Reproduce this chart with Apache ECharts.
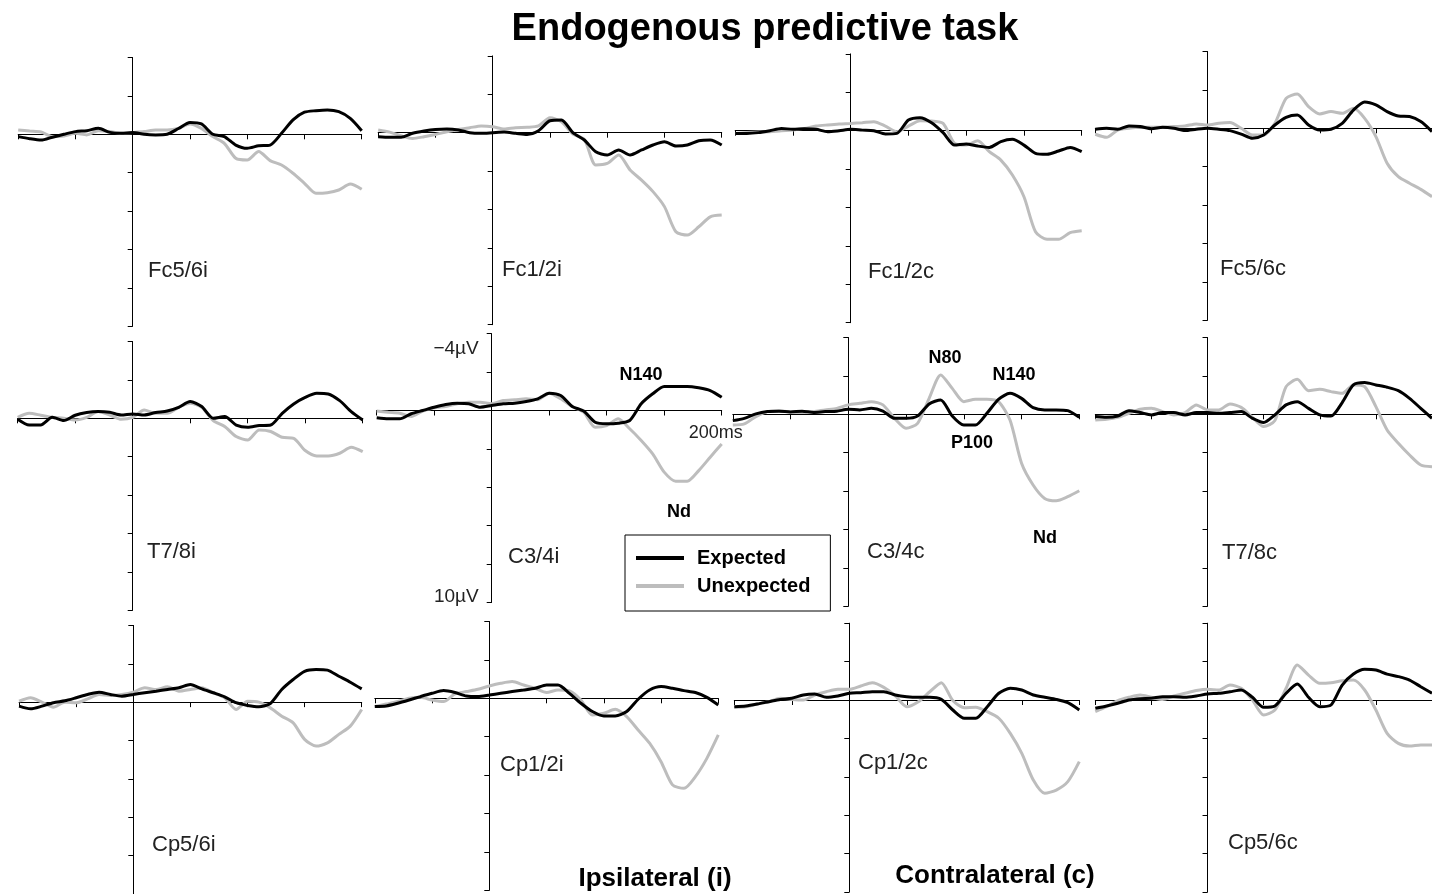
<!DOCTYPE html>
<html><head><meta charset="utf-8">
<script src="https://cdn.jsdelivr.net/npm/echarts@6/dist/echarts.min.js"></script>
<style>html,body{margin:0;padding:0;background:#fff}#c{width:1432px;height:894px}</style>
</head><body><div id="c"></div>
<script>
// ---------- DATA ----------
const times = [-100,-90,-80,-70,-60,-50,-40,-30,-20,-10,0,10,20,30,40,50,60,70,80,90,100,110,120,130,140,150,160,170,180,190,200];
const panelNames = ['Fc5/6i','Fc1/2i','Fc1/2c','Fc5/6c','T7/8i','C3/4i','C3/4c','T7/8c','Cp5/6i','Cp1/2i','Cp1/2c','Cp5/6c'];
const seriesNames = ['Expected','Unexpected'];

const fc56i_exp   = [0.12,0.23,0.3,0.15,0,-0.14,-0.19,-0.31,-0.1,-0.05,-0.09,0,0.03,0,-0.3,-0.62,-0.54,0,0.12,0.56,0.73,0.6,0.56,-0.05,-0.75,-1.15,-1.23,-1.27,-1.18,-0.83,-0.19];
const fc56i_unexp = [-0.23,-0.17,-0.12,0.12,0.09,-0.05,0.03,-0.19,-0.14,-0.05,-0.09,-0.14,-0.23,-0.23,-0.31,-0.54,-0.31,0.12,0.47,1.25,1.34,0.9,1.37,1.6,2.03,2.55,3.07,3.04,2.9,2.59,2.86];
const fc12i_exp   = [0.21,0.24,0.24,0.03,-0.09,-0.17,-0.19,-0.14,0,0.03,0,-0.03,0.03,0.09,-0.1,-0.62,-0.66,0,0.38,0.99,1.16,0.9,1.16,0.9,0.64,0.47,0.69,0.64,0.42,0.38,0.64];
const fc12i_unexp = [-0.14,-0.03,0.16,0.3,0.21,0.09,-0.05,-0.17,-0.26,-0.35,-0.31,-0.19,-0.26,-0.28,-0.35,-0.78,-0.57,0.07,0.35,1.68,1.6,1.16,1.94,2.47,3.07,3.85,5.16,5.33,4.9,4.38,4.29];
const fc12c_exp   = [0.14,0.14,0.1,0,-0.12,-0.07,-0.1,-0.07,0.05,0,-0.07,-0.03,0,0.17,0.14,-0.56,-0.68,-0.42,0.1,0.75,0.69,0.8,0.87,0.57,0.45,0.75,1.18,1.23,1.06,0.87,1.09];
const fc12c_unexp = [0.14,0.1,0.07,0.05,0,-0.03,-0.12,-0.24,-0.3,-0.35,-0.38,-0.42,-0.47,-0.24,0.05,-0.24,-0.52,-0.5,-0.38,0.66,0.75,0.52,1.09,1.53,2.31,3.44,5.26,5.66,5.66,5.31,5.21];
const fc56c_exp   = [0.05,0,0.05,-0.12,-0.09,0.02,-0.05,0,0.12,0.05,0,0.05,0.12,0.3,0.52,0.35,-0.17,-0.57,-0.69,-0.17,0.09,0.05,-0.26,-0.95,-1.37,-1.22,-0.87,-0.64,-0.61,-0.35,0.17];
const fc56c_unexp = [0.31,0.47,0.09,0,-0.05,-0.05,-0.05,-0.09,-0.12,-0.23,-0.17,-0.26,-0.3,0,0.35,0.35,-0.26,-1.56,-1.79,-1.13,-0.75,-0.87,-0.78,-1.04,-0.52,0.43,1.82,2.52,2.86,3.18,3.56];
const t78i_exp    = [0.05,0.35,0.35,-0.05,0.12,-0.16,-0.3,-0.35,-0.31,-0.17,-0.23,-0.17,-0.3,-0.38,-0.57,-0.87,-0.61,0,-0.09,0.35,0.47,0.38,0.35,-0.26,-0.75,-1.09,-1.3,-1.27,-0.92,-0.35,0.09];
const t78i_unexp  = [-0.05,-0.26,-0.16,-0.05,0,0.09,-0.05,-0.35,-0.17,0.05,-0.05,-0.43,-0.26,-0.26,-0.57,-0.78,-0.57,0.12,0.43,0.95,1.13,0.61,0.69,0.99,1.04,1.68,1.96,1.96,1.82,1.51,1.74];
const c34i_exp    = [0.38,0.43,0.43,0.17,0,-0.17,-0.31,-0.38,-0.35,-0.17,-0.26,-0.35,-0.38,-0.47,-0.61,-0.9,-0.78,-0.21,0.03,0.61,0.69,0.66,0.52,-0.35,-0.87,-1.25,-1.25,-1.25,-1.18,-1.04,-0.69];
const c34i_unexp  = [0.03,0.09,0.14,0.31,0.03,-0.14,-0.21,-0.35,-0.43,-0.43,-0.35,-0.52,-0.56,-0.61,-0.56,-0.9,-0.61,-0.21,0.09,0.87,0.78,0.43,0.95,1.56,2.26,3.21,3.68,3.68,3.13,2.43,1.74];
const c34c_exp    = [0.33,0.21,-0.02,-0.14,-0.16,-0.12,-0.16,-0.1,-0.14,-0.16,-0.26,-0.23,-0.31,-0.17,0.21,0.21,0.09,-0.54,-0.75,0.09,0.56,0.56,-0.05,-0.78,-1.09,-0.83,-0.35,-0.23,-0.23,-0.19,0.16];
const c34c_unexp  = [0.56,0.5,0.12,-0.14,-0.19,-0.12,-0.09,-0.14,-0.23,-0.31,-0.49,-0.57,-0.66,-0.49,0.21,0.73,0.47,-0.83,-2.05,-1.35,-0.66,-0.78,-0.78,-0.66,0.3,2.55,3.68,4.38,4.5,4.29,3.98];
const t78c_exp    = [0.12,0.16,0.09,-0.19,-0.09,0.03,-0.09,-0.09,0.03,-0.09,-0.09,-0.05,-0.09,-0.14,0.21,0.43,0.03,-0.49,-0.66,-0.31,0.03,0.09,-0.61,-1.53,-1.65,-1.53,-1.41,-1.23,-0.83,-0.31,0.21];
const t78c_unexp  = [0.3,0.26,0.16,-0.05,-0.26,-0.31,-0.14,0.03,-0.09,-0.49,-0.23,-0.23,-0.54,-0.36,0.16,0.64,0.33,-1.44,-1.82,-1.23,-1.3,-1.18,-1.09,-1.53,-1.44,-0.4,0.82,1.51,2.12,2.64,2.73];
const cp56i_exp   = [0.21,0.35,0.21,0.03,-0.07,-0.23,-0.4,-0.52,-0.4,-0.31,-0.4,-0.49,-0.57,-0.66,-0.75,-0.92,-0.69,-0.49,-0.28,0.03,0.17,0.24,0.07,-0.66,-1.18,-1.61,-1.7,-1.67,-1.35,-1.04,-0.69];
const cp56i_unexp = [-0.05,-0.23,0,0.26,0,0.03,-0.17,-0.4,-0.35,-0.4,-0.52,-0.75,-0.66,-0.8,-0.57,-0.66,-0.75,-0.49,-0.23,0.38,-0.05,0,0.3,0.73,1.08,1.94,2.29,2.12,1.68,1.25,0.38];
const cp12i_exp   = [0.43,0.4,0.26,0.09,-0.09,-0.26,-0.4,-0.3,-0.12,-0.09,-0.17,-0.26,-0.35,-0.43,-0.52,-0.69,-0.69,-0.26,0.26,0.69,0.92,0.92,0.69,0.05,-0.43,-0.61,-0.52,-0.4,-0.3,-0.05,0.35];
const cp12i_unexp = [0.43,0.3,0.17,0,-0.05,0.09,0.17,-0.23,-0.35,-0.47,-0.64,-0.78,-0.87,-0.69,-0.52,-0.3,-0.43,-0.38,0.09,0.87,0.78,0.57,0.95,1.65,2.34,3.3,4.51,4.69,4.08,3.13,1.91];
const cp12c_exp   = [0.35,0.31,0.21,0.09,-0.03,-0.09,-0.26,-0.31,-0.14,-0.21,-0.35,-0.38,-0.43,-0.43,-0.26,-0.17,-0.14,-0.14,-0.03,0.52,0.95,0.95,0.35,-0.35,-0.61,-0.52,-0.26,-0.14,-0.03,0.14,0.52];
const cp12c_unexp = [0.38,0.35,0.21,0.09,-0.09,-0.03,0,-0.26,-0.43,-0.56,-0.56,-0.73,-0.9,-0.66,-0.21,0.35,0.09,-0.43,-0.9,0.03,0.4,0.38,0.61,0.95,1.74,2.78,4.17,4.86,4.69,4.25,3.21];
const cp56c_exp   = [0.43,0.31,0.17,0,-0.07,-0.09,-0.17,-0.17,-0.14,-0.21,-0.31,-0.35,-0.43,-0.52,-0.14,0.38,0.31,-0.35,-0.83,-0.14,0.35,0.26,-0.78,-1.35,-1.6,-1.56,-1.35,-1.22,-1.04,-0.69,-0.35];
const cp56c_unexp = [0.61,0.35,0.03,-0.14,-0.26,-0.14,-0.03,-0.21,-0.35,-0.49,-0.56,-0.52,-0.78,-0.61,0,0.78,0.52,-0.61,-1.82,-1.3,-0.87,-0.9,-1.0,-1.04,-0.52,0.52,1.74,2.26,2.4,2.34,2.34];

const expectedData   = [fc56i_exp, fc12i_exp, fc12c_exp, fc56c_exp, t78i_exp, c34i_exp, c34c_exp, t78c_exp, cp56i_exp, cp12i_exp, cp12c_exp, cp56c_exp];
const unexpectedData = [fc56i_unexp, fc12i_unexp, fc12c_unexp, fc56c_unexp, t78i_unexp, c34i_unexp, c34c_unexp, t78c_unexp, cp56i_unexp, cp12i_unexp, cp12c_unexp, cp56c_unexp];

// tick labels (only shown on the C3/4i panel)
const yTickLabels = {'-4': '−4µV', '10': '10µV'};
const xTickLabels = {'200': '200ms'};
// component annotations
const peakTexts = ['N140', 'Nd', 'N80', 'N140', 'P100', 'Nd'];
const titleText = 'Endogenous predictive task';
const sideTexts = ['Ipsilateral (i)', 'Contralateral (c)'];

// ---------- LAYOUT ----------
const FONT = '"Liberation Sans", Arial, Helvetica, sans-serif';
const KY = 19.2; // px per microvolt
// x0: pixel of t=0, y0: pixel of 0 µV, xr: pixel of t=200 ms
const layout = [
  {x0:132.7, y0:134.3, xr:361.7}, {x0:492.7, y0:132.7, xr:721.7}, {x0:850.7, y0:130.7, xr:1081.7}, {x0:1210, y0:128.3, xr:1439.4},
  {x0:132.7, y0:418.3, xr:362.7}, {x0:491.7, y0:410.5, xr:721.7}, {x0:848.3, y0:414.3, xr:1079.3}, {x0:1210, y0:414.3, xr:1439.4},
  {x0:133.3, y0:702.2, xr:361.7}, {x0:489.3, y0:698.3, xr:718.3}, {x0:849.3, y0:700,   xr:1079.3}, {x0:1210, y0:700,   xr:1439.4}
];
const nameLabelPos = [
  [148,271],[502,270],[868,272],[1220,269],
  [147,552],[508,557],[867,552],[1222,553],
  [152,845],[500,765],[858,763],[1228,843]
];
const peakPos = [[641,375],[679,512],[945,358],[1014,375],[972,443],[1045,538]];
const sidePos = [[655,879],[995,876]];

const grids = [], xAxes = [], yAxes = [], series = [];
layout.forEach((p, i) => {
  const kx = (p.xr - p.x0) / 200;
  const gLeft = p.x0 - 100 * kx;
  const gTop = p.y0 - 4 * KY;
  grids.push({left: gLeft, top: gTop, width: 300 * kx, height: 14 * KY, containLabel: false});
  const isC34i = (i === 5);
  // labels are laid out from the grid edge, so shift them back onto the zero lines
  const yLabelMargin = 13 - (p.x0 - gLeft);
  const xLabelMargin = 14 - 10 * KY;
  xAxes.push({
    type: 'value', gridIndex: i, min: -100, max: 200, interval: 50,
    axisLine: {show: true, onZero: true, lineStyle: {color: '#000', width: 1}},
    axisTick: {show: true, length: 5, inside: false, lineStyle: {color: '#000', width: 1}},
    splitLine: {show: false},
    axisLabel: isC34i ? {
      show: true, margin: xLabelMargin, showMaxLabel: true,
      formatter: v => xTickLabels[String(v)] ? '{m|' + xTickLabels[String(v)] + '}' : '',
      rich: {m: {fontFamily: FONT, fontSize: 18, color: '#222', padding: [0, 12, 0, 0]}}
    } : {show: false}
  });
  yAxes.push({
    type: 'value', gridIndex: i, min: -4, max: 10, interval: 2, inverse: true,
    axisLine: {show: true, onZero: true, lineStyle: {color: '#000', width: 1}},
    axisTick: {show: true, length: 5, inside: false, lineStyle: {color: '#000', width: 1}},
    splitLine: {show: false},
    axisLabel: isC34i ? {
      show: true, margin: yLabelMargin, showMinLabel: true, showMaxLabel: true,
      formatter: v => v === -4 ? '{t|' + yTickLabels['-4'] + '}' : (v === 10 ? '{b|' + yTickLabels['10'] + '}' : ''),
      rich: {
        t: {fontFamily: FONT, fontSize: 19, color: '#222', padding: [30, 0, 0, 0]},
        b: {fontFamily: FONT, fontSize: 19, color: '#222', padding: [0, 0, 12, 0]}
      }
    } : {show: false}
  });
  series.push({
    name: seriesNames[1], type: 'line', xAxisIndex: i, yAxisIndex: i,
    data: times.map((t, k) => [t, unexpectedData[i][k]]),
    symbol: 'none', showSymbol: false, smooth: 0.25, lineStyle: {color: '#bdbdbd', width: 3}, itemStyle: {color: '#bdbdbd'},
    z: 3, silent: true
  });
  series.push({
    name: seriesNames[0], type: 'line', xAxisIndex: i, yAxisIndex: i,
    data: times.map((t, k) => [t, expectedData[i][k]]),
    symbol: 'none', showSymbol: false, smooth: 0.25, lineStyle: {color: '#000', width: 3}, itemStyle: {color: '#000'},
    z: 4, silent: true
  });
});

const graphics = [];
panelNames.forEach((n, i) => {
  graphics.push({type: 'text', x: nameLabelPos[i][0], y: nameLabelPos[i][1], z: 100,
    style: {text: n, font: '22px ' + FONT, fill: '#222', align: 'left', verticalAlign: 'middle'}});
});
peakTexts.forEach((t, i) => {
  graphics.push({type: 'text', x: peakPos[i][0], y: peakPos[i][1], z: 100,
    style: {text: t, font: 'bold 18px ' + FONT, fill: '#000', align: 'center', verticalAlign: 'middle'}});
});
sideTexts.forEach((t, i) => {
  graphics.push({type: 'text', x: sidePos[i][0], y: sidePos[i][1], z: 100,
    style: {text: t, font: 'bold 26px ' + FONT, fill: '#000', align: 'center', verticalAlign: 'middle'}});
});

const chart = echarts.init(document.getElementById('c'), null, {renderer: 'canvas'});
chart.setOption({
  backgroundColor: '#fff',
  animation: false,
  title: {text: titleText, left: 760, top: 25, textAlign: 'center', textVerticalAlign: 'middle',
    textStyle: {fontFamily: FONT, fontSize: 38, fontWeight: 'bold', color: '#000'}},
  legend: {
    data: seriesNames, left: 625, top: 535, orient: 'vertical', selectedMode: false,
    icon: 'rect',
    backgroundColor: '#fff', borderColor: '#000', borderWidth: 1,
    padding: [13, 20, 15, 11], itemGap: 8, itemWidth: 48, itemHeight: 4,
    textStyle: {fontFamily: FONT, fontSize: 20, fontWeight: 'bold', color: '#000', padding: [0, 0, 0, 8]},
    z: 50
  },
  grid: grids, xAxis: xAxes, yAxis: yAxes, series: series,
  graphic: graphics
});
</script>
</body></html>
